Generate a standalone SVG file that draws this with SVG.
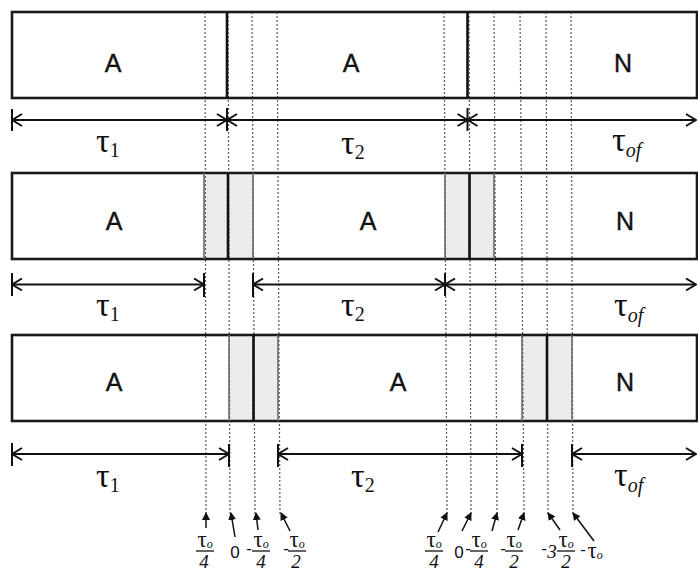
<svg xmlns="http://www.w3.org/2000/svg" width="698" height="571" viewBox="0 0 698 571">
<style>
.box{fill:none;stroke:#1a1a1a;stroke-width:2.6}
.shade{fill:#ececec;stroke:none}
.gl{stroke:#6a6a6a;stroke-width:1.6}
.bl{stroke:#111;stroke-width:2.6}
.dot{stroke:#5a5a5a;stroke-width:1.2;stroke-dasharray:2 2}
.arr{stroke:#111;stroke-width:2;fill:none;marker-start:url(#ah);marker-end:url(#ah)}
.tick{stroke:#111;stroke-width:2}
.lab{font-family:"Liberation Sans",Arial,sans-serif;font-size:25px;fill:#111;stroke:#111;stroke-width:0.4;text-anchor:middle}
.tau{font-family:"Liberation Serif","Times New Roman",serif;font-size:34px;fill:#111}
.sub{font-size:20px}
.it{font-style:italic}
.f{font-family:"Liberation Serif","Times New Roman",serif;fill:#111;text-anchor:middle}
.ft{font-size:23px}
.fs{font-size:12px;font-style:italic}
.fd{font-size:19px;font-style:italic}
.fz{font-family:"Liberation Sans",Arial,sans-serif;font-size:17px;fill:#111;text-anchor:middle}
.bar{stroke:#111;stroke-width:1.3}
.pt{stroke:#111;stroke-width:1.5;fill:none;marker-end:url(#tri)}
</style>
<defs>
<marker id="ah" viewBox="0 0 12 14" refX="11" refY="7" markerWidth="12" markerHeight="14" markerUnits="userSpaceOnUse" orient="auto-start-reverse">
<path d="M1,1 L11,7 L1,13" fill="none" stroke="#111" stroke-width="2"/>
</marker>
<marker id="tri" viewBox="0 0 8 8" refX="7" refY="4" markerWidth="8" markerHeight="8" markerUnits="userSpaceOnUse" orient="auto">
<path d="M0,0 L8,4 L0,8 z" fill="#111"/>
</marker>
</defs>

<!-- shading (under guides) -->
<g id="shading">
<rect class="shade" x="204" y="174.5" width="49" height="83"/>
<rect class="shade" x="445" y="174.5" width="49" height="83"/>
<rect class="shade" x="229" y="336.5" width="49" height="83"/>
<rect class="shade" x="522" y="336.5" width="50" height="83"/>
</g>

<!-- dotted reference lines -->
<g id="guides">
<line class="dot" x1="205" y1="12" x2="206" y2="515"/>
<line class="dot" x1="228" y1="12" x2="230" y2="515"/>
<line class="dot" x1="252" y1="12" x2="255" y2="515"/>
<line class="dot" x1="277" y1="12" x2="280" y2="515"/>
<line class="dot" x1="444" y1="12" x2="447" y2="515"/>
<line class="dot" x1="469" y1="12" x2="471" y2="515"/>
<line class="dot" x1="494" y1="12" x2="497" y2="515"/>
<line class="dot" x1="520" y1="12" x2="524" y2="515"/>
<line class="dot" x1="546" y1="12" x2="548" y2="515"/>
<line class="dot" x1="571" y1="12" x2="573" y2="515"/>
</g>

<!-- row 1 -->
<g id="row1">
<rect class="box" x="12" y="12" width="685" height="86"/>
<line class="bl" x1="227" y1="12" x2="227" y2="98"/>
<line class="bl" x1="467.5" y1="12" x2="467.5" y2="98"/>
<text class="lab" x="113" y="72">A</text>
<text class="lab" x="351" y="72">A</text>
<text class="lab" x="623" y="72">N</text>
</g>

<!-- row 2 -->
<g id="row2">
<rect class="box" x="12" y="173" width="685" height="86"/>
<line class="gl" x1="204" y1="173" x2="204" y2="259"/>
<line class="bl" x1="228" y1="173" x2="228" y2="259"/>
<line class="gl" x1="253" y1="173" x2="253" y2="259"/>
<line class="gl" x1="445" y1="173" x2="445" y2="259"/>
<line class="bl" x1="469.5" y1="173" x2="469.5" y2="259"/>
<line class="gl" x1="494" y1="173" x2="494" y2="259"/>
<text class="lab" x="114" y="230">A</text>
<text class="lab" x="368" y="230">A</text>
<text class="lab" x="625" y="230">N</text>
</g>

<!-- row 3 -->
<g id="row3">
<rect class="box" x="12" y="335" width="685" height="86"/>
<line class="gl" x1="229" y1="335" x2="229" y2="421"/>
<line class="bl" x1="253.5" y1="335" x2="253.5" y2="421"/>
<line class="gl" x1="278" y1="335" x2="278" y2="421"/>
<line class="gl" x1="522" y1="335" x2="522" y2="421"/>
<line class="bl" x1="547" y1="335" x2="547" y2="421"/>
<line class="gl" x1="572" y1="335" x2="572" y2="421"/>
<text class="lab" x="114" y="391">A</text>
<text class="lab" x="398" y="391">A</text>
<text class="lab" x="625" y="391">N</text>
</g>

<!-- duration connectors -->
<g id="connectors">
<line class="tick" x1="12" y1="109" x2="12" y2="131"/>
<line class="tick" x1="227" y1="108" x2="227" y2="131"/>
<line class="tick" x1="467.5" y1="108" x2="467.5" y2="131"/>
<line class="arr" x1="12" y1="120" x2="227" y2="120"/>
<line class="arr" x1="227" y1="120" x2="467.5" y2="120"/>
<line class="arr" x1="467.5" y1="120" x2="696" y2="120"/>

<line class="tick" x1="12" y1="273" x2="12" y2="296"/>
<line class="tick" x1="204" y1="273" x2="204" y2="297"/>
<line class="tick" x1="253" y1="273" x2="253" y2="297"/>
<line class="tick" x1="445" y1="273" x2="445" y2="296"/>
<line class="arr" x1="12" y1="284.5" x2="204" y2="284.5"/>
<line class="arr" x1="253" y1="284.5" x2="445" y2="284.5"/>
<line class="arr" x1="445" y1="284.5" x2="696" y2="284.5"/>

<line class="tick" x1="12" y1="443" x2="12" y2="466"/>
<line class="tick" x1="229" y1="444" x2="229" y2="467"/>
<line class="tick" x1="278" y1="444" x2="278" y2="467"/>
<line class="tick" x1="522" y1="444" x2="522" y2="467"/>
<line class="tick" x1="572" y1="444" x2="572" y2="467"/>
<line class="arr" x1="12" y1="454" x2="229" y2="454"/>
<line class="arr" x1="278" y1="454" x2="522" y2="454"/>
<line class="arr" x1="572" y1="454" x2="696" y2="454"/>

<!-- pointer arrows to instants -->
<line class="pt" x1="206" y1="528" x2="206" y2="513"/>
<line class="pt" x1="235" y1="537" x2="231" y2="513"/>
<line class="pt" x1="258" y1="530" x2="256" y2="513"/>
<line class="pt" x1="290" y1="531" x2="281" y2="513"/>
<line class="pt" x1="438" y1="532" x2="447" y2="513"/>
<line class="pt" x1="462" y1="531" x2="471" y2="513"/>
<line class="pt" x1="492" y1="531" x2="497" y2="513"/>
<line class="pt" x1="518" y1="530" x2="524" y2="513"/>
<line class="pt" x1="560" y1="530" x2="548" y2="513"/>
<line class="pt" x1="594" y1="541" x2="573" y2="513"/>
</g>

<!-- duration labels -->
<g id="tau-labels">
<text class="tau" x="96" y="152">τ<tspan class="sub" dy="5">1</tspan></text>
<text class="tau" x="341" y="154">τ<tspan class="sub" dy="5">2</tspan></text>
<text class="tau" x="612" y="151">τ<tspan class="sub it" dy="6">of</tspan></text>
<text class="tau" x="96" y="316">τ<tspan class="sub" dy="5">1</tspan></text>
<text class="tau" x="341" y="316">τ<tspan class="sub" dy="5">2</tspan></text>
<text class="tau" x="614" y="316">τ<tspan class="sub it" dy="6">of</tspan></text>
<text class="tau" x="96" y="487">τ<tspan class="sub" dy="5">1</tspan></text>
<text class="tau" x="351" y="487">τ<tspan class="sub" dy="5">2</tspan></text>
<text class="tau" x="614" y="486">τ<tspan class="sub it" dy="6">of</tspan></text>
</g>

<!-- instant labels -->
<g id="instant-labels">
<text class="f" x="205" y="547"><tspan class="ft">τ</tspan><tspan class="fs" dy="1">o</tspan></text>
<line class="bar" x1="196" y1="551" x2="214" y2="551"/>
<text class="f fd" x="204" y="568">4</text>
<text class="fz" x="235" y="558">0</text>

<text class="fz" x="249" y="554">-</text>
<text class="f" x="261" y="547"><tspan class="ft">τ</tspan><tspan class="fs" dy="1">o</tspan></text>
<line class="bar" x1="252" y1="551" x2="270" y2="551"/>
<text class="f fd" x="261" y="568">4</text>

<text class="fz" x="286" y="554">-</text>
<text class="f" x="297" y="547"><tspan class="ft">τ</tspan><tspan class="fs" dy="1">o</tspan></text>
<line class="bar" x1="288" y1="551" x2="306" y2="551"/>
<text class="f fd" x="296" y="568">2</text>

<text class="f" x="434" y="547"><tspan class="ft">τ</tspan><tspan class="fs" dy="1">o</tspan></text>
<line class="bar" x1="425" y1="551" x2="443" y2="551"/>
<text class="f fd" x="434" y="568">4</text>
<text class="fz" x="459" y="558">0</text>

<text class="fz" x="468" y="554">-</text>
<text class="f" x="479" y="547"><tspan class="ft">τ</tspan><tspan class="fs" dy="1">o</tspan></text>
<line class="bar" x1="470" y1="551" x2="488" y2="551"/>
<text class="f fd" x="479" y="568">4</text>

<text class="fz" x="503" y="554">-</text>
<text class="f" x="514" y="547"><tspan class="ft">τ</tspan><tspan class="fs" dy="1">o</tspan></text>
<line class="bar" x1="505" y1="551" x2="523" y2="551"/>
<text class="f fd" x="514" y="568">2</text>

<text class="fz" x="544" y="554">-</text>
<text class="f fd" x="552" y="558">3</text>
<text class="f" x="566" y="547"><tspan class="ft">τ</tspan><tspan class="fs" dy="1">o</tspan></text>
<line class="bar" x1="557" y1="551" x2="575" y2="551"/>
<text class="f fd" x="566" y="568">2</text>

<text class="fz" x="583" y="555">-</text>
<text class="f" x="595" y="558"><tspan class="ft">τ</tspan><tspan class="fs" dy="1">o</tspan></text>
</g>
</svg>
